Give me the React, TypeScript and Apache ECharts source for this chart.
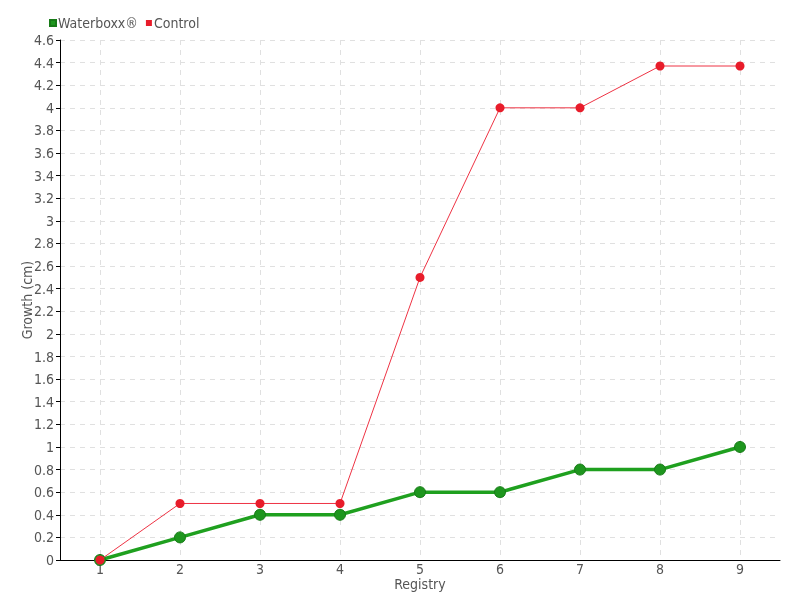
import React, { useEffect, useRef } from "react";
import * as echarts from "echarts";

const categories = ["1", "2", "3", "4", "5", "6", "7", "8", "9"];
const waterboxx = [0, 0.2, 0.4, 0.4, 0.6, 0.6, 0.8, 0.8, 1.0];
const control = [0, 0.5, 0.5, 0.5, 2.5, 4.0, 4.0, 4.37, 4.37];

const FONT = "'DejaVu Sans Condensed', 'Liberation Sans Narrow', sans-serif";

export default function App() {
  const ref = useRef<HTMLDivElement>(null);
  useEffect(() => {
    if (!ref.current) return;
    const chart = echarts.init(ref.current, null, { renderer: "svg" });
    chart.setOption({
      animation: false,
      textStyle: { fontFamily: FONT },
      legend: {
        left: 44,
        top: 11,
        itemWidth: 6,
        itemHeight: 6,
        itemGap: 8,
        icon: "rect",
        textStyle: { fontFamily: FONT, fontSize: 14, color: "#555", padding: [0, 0, 0, -3] },
        data: ["Waterboxx®", "Control"],
      },
      grid: { left: 60, right: 20, top: 40, bottom: 40, outerBoundsMode: "none", containLabel: false },
      xAxis: {
        type: "category",
        data: categories,
        name: "Registry",
        nameLocation: "middle",
        nameGap: 17,
        nameMoveOverlap: false,
        nameTextStyle: { fontFamily: FONT, fontSize: 14, lineHeight: 14, color: "#555" },
        axisLine: { lineStyle: { color: "#000", width: 1 } },
        axisTick: { alignWithLabel: true, length: 4, lineStyle: { color: "#000" } },
        axisLabel: { fontFamily: FONT, fontSize: 14, lineHeight: 14, color: "#555", margin: 2 },
        splitLine: { show: true, alignWithLabel: true, lineStyle: { color: "#e0e0e0", type: [5, 5] } },
      },
      yAxis: {
        type: "value",
        min: 0,
        max: 4.6,
        interval: 0.2,
        name: "Growth (cm)",
        nameLocation: "middle",
        nameGap: 26,
        nameMoveOverlap: false,
        nameTextStyle: { fontFamily: FONT, fontSize: 14, color: "#555" },
        axisLine: { show: true, lineStyle: { color: "#000", width: 1 } },
        axisTick: { show: true, length: 4, lineStyle: { color: "#000" } },
        axisLabel: {
          fontFamily: FONT,
          fontSize: 14,
          color: "#555",
          margin: 6,
          formatter: (v: number) => String(Math.round(v * 10) / 10),
        },
        splitLine: { show: true, lineStyle: { color: "#e0e0e0", type: [5, 5] } },
      },
      series: [
        {
          name: "Waterboxx®",
          type: "line",
          data: waterboxx,
          symbol: "circle",
          symbolSize: 11,
          lineStyle: { color: "#1fa01f", width: 3.5 },
          itemStyle: { color: "#1e961e", borderColor: "#177a17", borderWidth: 1 },
          color: "#1fa01f",
          z: 2,
        },
        {
          name: "Control",
          type: "line",
          data: control,
          symbol: "circle",
          symbolSize: 9,
          lineStyle: { color: "#ee3344", width: 1 },
          itemStyle: { color: "#e81c2a" },
          color: "#e81c2a",
          z: 3,
        },
      ],
    });
    return () => chart.dispose();
  }, []);
  return <div ref={ref} style={{ width: 800, height: 600, position: "fixed", left: 0, top: 0 }} />;
}
